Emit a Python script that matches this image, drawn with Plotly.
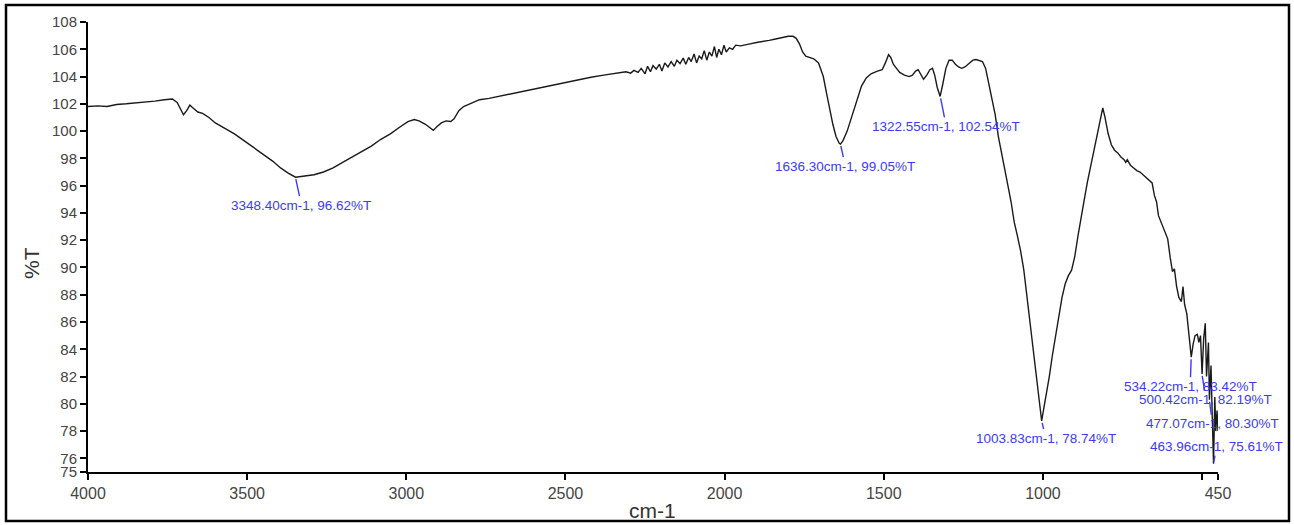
import plotly.graph_objects as go

# Spectrum (wavenumber cm-1, %T), in three segments
wn_high = [
    4000, 3970, 3940, 3910, 3880, 3850, 3820, 3790, 3760, 3735, 3720, 3710, 3700, 3690, 3680,
    3670, 3655, 3640, 3620, 3600, 3570, 3540, 3510, 3480, 3450, 3420, 3395, 3370, 3348, 3320,
    3290, 3260, 3230, 3200, 3170, 3140, 3110, 3080, 3050, 3020, 2995, 2975, 2960, 2940, 2925,
    2915, 2905, 2890, 2875, 2860, 2850, 2835, 2820, 2800, 2770, 2740, 2700, 2660, 2620, 2580,
    2540, 2500, 2460, 2420, 2380,
]
t_high = [
    101.8, 101.85, 101.8, 101.95, 102.0, 102.05, 102.15, 102.2, 102.3, 102.35, 102.1, 101.6, 101.2, 101.5, 101.9,
    101.7, 101.4, 101.3, 101.0, 100.6, 100.2, 99.8, 99.3, 98.8, 98.3, 97.8, 97.3, 96.9, 96.62, 96.7,
    96.8, 97.0, 97.3, 97.7, 98.1, 98.5, 98.9, 99.4, 99.8, 100.3, 100.7, 100.85, 100.75, 100.5, 100.2,
    100.05, 100.3, 100.6, 100.75, 100.7, 100.9, 101.5, 101.8, 102.0, 102.3, 102.4, 102.6, 102.8, 103.0, 103.2,
    103.4, 103.6, 103.8, 103.95, 104.1,
]
wn_mid = [
    2340, 2310, 2295, 2285, 2272, 2262, 2250, 2242, 2233, 2225, 2215, 2205, 2197, 2188, 2178,
    2168, 2158, 2150, 2140, 2130, 2122, 2113, 2105, 2096, 2088, 2080, 2072, 2064, 2056, 2048,
    2040, 2032, 2025, 2018, 2010, 2002, 1995, 1985, 1975, 1965, 1950, 1935, 1920, 1900, 1880,
    1860, 1840, 1820, 1800, 1785, 1775, 1765, 1755, 1745, 1735, 1720, 1705, 1690, 1680, 1670,
    1660, 1650, 1640, 1636, 1628, 1615, 1600, 1585, 1570, 1555, 1540, 1520, 1505, 1495, 1485,
    1478, 1470, 1460, 1450, 1435, 1420, 1410, 1400, 1392, 1385, 1375, 1365, 1355, 1347, 1340,
    1332, 1323, 1315, 1305, 1295, 1285, 1275, 1265, 1255, 1245, 1235, 1220, 1210, 1200, 1190,
    1180, 1170, 1160, 1150,
]
t_mid = [
    104.25, 104.35, 104.25, 104.45, 104.3, 104.6, 104.2, 104.75, 104.35, 104.8, 104.55, 104.9, 104.4, 105.0, 104.7,
    105.1, 104.75, 105.2, 104.95, 105.35, 104.9, 105.4, 105.1, 105.65, 105.0, 105.5, 105.3, 105.9, 105.2, 105.8,
    105.5, 106.2, 105.4, 106.0, 105.6, 106.3, 105.8, 106.1, 106.0, 106.3, 106.25, 106.35, 106.4, 106.5, 106.55,
    106.65, 106.75, 106.85, 106.95, 106.95, 106.8, 106.4, 105.8, 105.5, 105.4, 105.3, 105.0, 104.0, 102.8, 101.6,
    100.5, 99.6, 99.1, 99.05, 99.3, 100.0, 101.1, 102.3, 103.3, 103.9, 104.2, 104.4, 104.5, 105.0, 105.6,
    105.4, 104.9, 104.6, 104.3, 104.1, 104.0, 104.1, 104.4, 104.5, 104.2, 103.8, 104.1, 104.5, 104.6, 104.1,
    103.2, 102.54, 103.4, 104.6, 105.2, 105.2, 104.9, 104.7, 104.6, 104.7, 104.9, 105.2, 105.25, 105.2, 105.1,
    104.6, 103.5, 102.5, 101.2,
]
wn_low = [
    1140, 1130, 1120, 1110, 1100, 1090, 1080, 1070, 1060, 1050, 1040, 1030, 1020, 1010, 1004,
    1000, 990, 980, 970, 960, 950, 940, 930, 920, 910, 900, 890, 880, 870, 860,
    850, 840, 830, 820, 812, 805, 795, 785, 775, 765, 755, 745, 740, 735, 725,
    715, 705, 695, 685, 675, 665, 657, 650, 643, 637, 630, 622, 615, 608, 600,
    593, 587, 580, 573, 565, 560, 555, 548, 542, 537, 534, 528, 522, 515, 510,
    505, 500, 495, 490, 486, 480, 477, 472, 468, 464, 460, 457, 453, 450,
]
t_low = [
    99.6, 98.3, 97.0, 96.0, 94.8, 93.3, 92.3, 91.2, 89.8, 87.8, 85.8, 83.9, 81.7, 79.6, 78.74,
    79.3, 80.6, 82.0, 83.6, 85.0, 86.4, 87.8, 88.8, 89.4, 89.8, 90.8, 92.3, 93.8, 95.0, 96.3,
    97.4, 98.5, 99.7, 100.8, 101.7, 101.0, 99.8, 99.0, 98.6, 98.4, 98.1, 97.9, 97.7, 97.9, 97.5,
    97.3, 97.1, 97.0, 96.8, 96.6, 96.4, 96.2, 95.3, 94.8, 93.8, 93.4, 92.9, 92.6, 92.1, 90.7,
    89.7, 89.9, 88.6, 87.8, 87.5, 88.6, 87.3, 86.6, 85.3, 84.2, 83.42, 84.4, 85.0, 85.1, 84.5,
    85.0, 82.19, 84.8, 85.9, 82.0, 84.5, 80.30, 82.8, 79.0, 75.61, 80.5, 78.0, 79.5, 78.0,
]
wavenumber = wn_high + wn_mid + wn_low
transmittance = t_high + t_mid + t_low

# Peak labels
peak_wn = [3348.40, 1636.30, 1322.55, 1003.83, 534.22, 500.42, 477.07, 463.96]
peak_t = [96.62, 99.05, 102.54, 78.74, 83.42, 82.19, 80.30, 75.61]
label_dx = [6, 5, 6, 4, -1, 4, 3, 3]
label_dy = [28, 22, 30, 17, 29, 26, 24, -17]

x_tickvals = [4000, 3500, 3000, 2500, 2000, 1500, 1000, 500, 450]
x_ticktext = ["4000", "3500", "3000", "2500", "2000", "1500", "1000", "", "450"]
y_tickvals = [75, 76, 78, 80, 82, 84, 86, 88, 90, 92, 94, 96, 98, 100, 102, 104, 106, 108]

FONT = "Liberation Sans, Arial, sans-serif"
BLUE = "#3b3bf5"

fig = go.Figure()
fig.add_trace(go.Scatter(
    x=wavenumber, y=transmittance, mode="lines",
    line=dict(color="#1a1a1a", width=1.4), showlegend=False, hoverinfo="x+y",
))

annotations = []
for wn, t, dx, dy in zip(peak_wn, peak_t, label_dx, label_dy):
    annotations.append(dict(
        x=wn, y=t, xref="x", yref="y",
        text=f"{wn:.2f}cm-1, {t:.2f}%T",
        showarrow=True, arrowhead=0, arrowwidth=1.4, arrowcolor=BLUE,
        ax=dx, ay=dy, axref="pixel", ayref="pixel", standoff=2,
        font=dict(family=FONT, size=13.5, color=BLUE),
    ))

annotations.append(dict(
    text="cm-1", x=(652 - 88) / 1130, y=(472 - 510) / 450, xref="paper", yref="paper",
    showarrow=False, xanchor="center", yanchor="middle",
    font=dict(family=FONT, size=21, color="#333333"),
))
annotations.append(dict(
    text="%T", x=(31 - 88) / 1130, y=(472 - 263) / 450, xref="paper", yref="paper",
    showarrow=False, xanchor="center", yanchor="middle", textangle=-90,
    font=dict(family=FONT, size=21, color="#333333"),
))

fig.update_layout(
    width=1294, height=525,
    margin=dict(l=88, r=76, t=22, b=53),
    paper_bgcolor="white", plot_bgcolor="white",
    font=dict(family=FONT, size=16, color="#444444"),
    annotations=annotations,
    shapes=[dict(
        type="rect", xref="paper", yref="paper",
        x0=(6 - 88) / 1130, x1=(1289 - 88) / 1130,
        y0=(472 - 521) / 450, y1=(472 - 5) / 450,
        line=dict(color="black", width=2.5), fillcolor="rgba(0,0,0,0)", layer="above",
    )],
    xaxis=dict(
        range=[4000, 450], autorange=False,
        tickmode="array", tickvals=x_tickvals, ticktext=x_ticktext,
        ticks="outside", ticklen=6, tickwidth=1.5, tickcolor="black",
        showline=True, linecolor="black", linewidth=2, mirror=False,
        showgrid=False, zeroline=False,
        tickfont=dict(family=FONT, size=16, color="#444444"),
    ),
    yaxis=dict(
        range=[75, 108], autorange=False,
        tickmode="array", tickvals=y_tickvals,
        ticks="outside", ticklen=6, tickwidth=1.5, tickcolor="black",
        showline=True, linecolor="black", linewidth=2, mirror=False,
        showgrid=False, zeroline=False,
        tickfont=dict(family=FONT, size=15, color="#444444"),
    ),
)

fig.write_html("out.html")
